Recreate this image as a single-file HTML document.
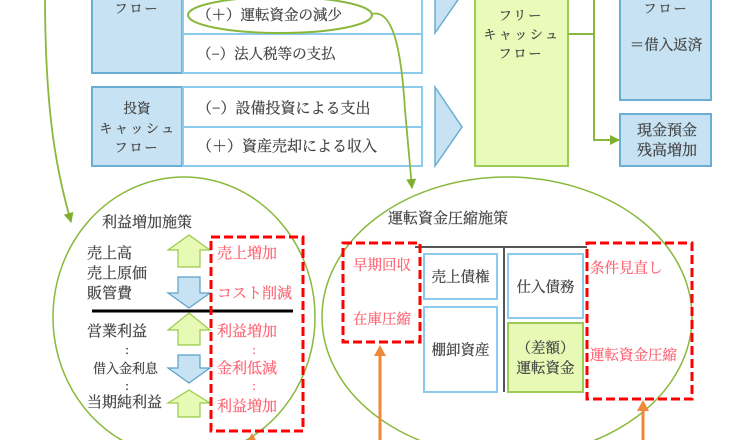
<!DOCTYPE html>
<html><head><meta charset="utf-8"><style>
html,body{margin:0;padding:0;background:#fff;}
svg{display:block;}
text{font-family:"Liberation Serif","Noto Serif CJK SC",serif;}
.d{fill:#444;stroke:#444;stroke-width:0.25;}
.r{fill:#ff6070;stroke:#ff6070;stroke-width:0.2;}
</style></head><body>
<svg width="740" height="440" viewBox="0 0 740 440" xmlns="http://www.w3.org/2000/svg">
<defs>
<marker id="ga" markerWidth="10" markerHeight="10" refX="9" refY="5" orient="auto" markerUnits="userSpaceOnUse"><path d="M0,0 L10,5 L0,10 z" fill="#7fae2e"/></marker>
</defs>

<!-- Operating CF block -->
<rect x="92" y="-40" width="90" height="113" fill="#c7e3f3" stroke="#6aaed3" stroke-width="2"/>
<rect x="183" y="-40" width="239" height="74" fill="#fff" stroke="#8ccbee" stroke-width="2"/>
<rect x="183" y="34" width="239" height="39" fill="#fff" stroke="#8ccbee" stroke-width="2"/>
<text class="d" x="137" y="13" font-size="13" text-anchor="middle" letter-spacing="2">フロー</text>
<text class="d" x="197" y="20" font-size="14.5">（＋）運転資金の減少</text>
<text class="d" x="197" y="59" font-size="14.5">（−）法人税等の支払</text>
<ellipse cx="280" cy="15" rx="92" ry="18" fill="none" stroke="#8ab83c" stroke-width="2"/>

<!-- Investing CF block -->
<rect x="92" y="87" width="90" height="79" fill="#c7e3f3" stroke="#6aaed3" stroke-width="2"/>
<rect x="183" y="87" width="239" height="40" fill="#fff" stroke="#8ccbee" stroke-width="2"/>
<rect x="183" y="127" width="239" height="39" fill="#fff" stroke="#8ccbee" stroke-width="2"/>
<text class="d" x="137" y="113" font-size="13.5" text-anchor="middle">投資</text>
<text class="d" x="138" y="133" font-size="13" text-anchor="middle" letter-spacing="2.5">キャッシュ</text>
<text class="d" x="137" y="152" font-size="13" text-anchor="middle" letter-spacing="2">フロー</text>
<text class="d" x="197" y="113" font-size="15">（−）設備投資による支出</text>
<text class="d" x="197" y="151" font-size="15">（＋）資産売却による収入</text>

<!-- Triangles -->
<polygon points="435,-46 462,-6 435,33" fill="#c7e3f3" stroke="#6aaed3" stroke-width="1.5"/>
<polygon points="435,87 462,127 435,166" fill="#c7e3f3" stroke="#6aaed3" stroke-width="1.5"/>

<!-- FCF -->
<rect x="475" y="-40" width="93" height="206" fill="#e8fbb8" stroke="#9ccc55" stroke-width="2"/>
<text class="d" x="521" y="20" font-size="13" text-anchor="middle" letter-spacing="2">フリー</text>
<text class="d" x="522" y="39" font-size="13" text-anchor="middle" letter-spacing="2.5">キャッシュ</text>
<text class="d" x="521" y="58" font-size="13" text-anchor="middle" letter-spacing="2">フロー</text>

<!-- connector -->
<path d="M568,34 H594" stroke="#8ab83c" stroke-width="2" fill="none"/>
<path d="M594,-5 V140 H619" stroke="#8ab83c" stroke-width="2" fill="none" marker-end="url(#ga)"/>

<!-- right boxes -->
<rect x="620" y="-40" width="91" height="140" fill="#c7e3f3" stroke="#6aaed3" stroke-width="2"/>
<text class="d" x="666" y="13" font-size="13" text-anchor="middle" letter-spacing="2">フロー</text>
<text class="d" x="666" y="50" font-size="14.5" text-anchor="middle">＝借入返済</text>
<rect x="620" y="114" width="91" height="52" fill="#c7e3f3" stroke="#6aaed3" stroke-width="2"/>
<text class="d" x="667" y="135" font-size="15" text-anchor="middle">現金預金</text>
<text class="d" x="667" y="155" font-size="15" text-anchor="middle">残高増加</text>

<!-- curves -->
<path d="M45,-5 C45,120 58,175 71,222" stroke="#8ab83c" stroke-width="1.8" fill="none" marker-end="url(#ga)"/>
<path d="M372,14 C395,8 402,60 405,110 L412,188" stroke="#8ab83c" stroke-width="1.8" fill="none" marker-end="url(#ga)"/>

<!-- Left ellipse -->
<ellipse cx="184" cy="317" rx="131" ry="140" fill="none" stroke="#8ab83c" stroke-width="1.5"/>
<text class="d" x="102" y="227" font-size="15">利益増加施策</text>
<text class="d" x="87" y="258" font-size="15">売上高</text>
<text class="d" x="87" y="278" font-size="15">売上原価</text>
<text class="d" x="87" y="298" font-size="15">販管費</text>
<line x1="92" y1="311" x2="293" y2="311" stroke="#000" stroke-width="3"/>
<text class="d" x="87" y="336" font-size="15">営業利益</text>
<text class="d" x="127" y="354" font-size="13" text-anchor="middle">:</text>
<text class="d" x="93" y="373" font-size="13">借入金利息</text>
<text class="d" x="127" y="390" font-size="13" text-anchor="middle">:</text>
<text class="d" x="87" y="407" font-size="15">当期純利益</text>

<!-- arrows -->
<polygon points="189,235 210,250 200,250 200,267 178,267 178,250 168,250" fill="#e6f9b5" stroke="#9bc94a" stroke-width="1.2"/>
<polygon points="178,277 200,277 200,293 210,293 189,308 168,293 178,293" fill="#c7e3f3" stroke="#5aa0c8" stroke-width="1.2"/>
<polygon points="189,313 210,330 200,330 200,345 178,345 178,330 168,330" fill="#e6f9b5" stroke="#9bc94a" stroke-width="1.2"/>
<polygon points="178,355 200,355 200,368 210,368 189,383 168,368 178,368" fill="#c7e3f3" stroke="#5aa0c8" stroke-width="1.2"/>
<polygon points="189,390 210,403 200,403 200,417 178,417 178,403 168,403" fill="#e6f9b5" stroke="#9bc94a" stroke-width="1.2"/>

<!-- red box left -->
<rect x="211" y="237" width="92" height="194" fill="none" stroke="#ff0000" stroke-width="3" stroke-dasharray="9,4"/>
<g font-size="15">
<text class="r" x="217" y="258">売上増加</text>
<text class="r" x="217" y="298">コスト削減</text>
<text class="r" x="217" y="336">利益増加</text>
<text class="r" x="254" y="354" font-size="13" text-anchor="middle">:</text>
<text class="r" x="217" y="373">金利低減</text>
<text class="r" x="254" y="390" font-size="13" text-anchor="middle">:</text>
<text class="r" x="217" y="411">利益増加</text>
</g>

<!-- Right ellipse -->
<ellipse cx="507" cy="317" rx="185" ry="140" fill="none" stroke="#8ab83c" stroke-width="1.5"/>
<text class="d" x="388" y="223" font-size="15">運転資金圧縮施策</text>
<line x1="415" y1="247" x2="587" y2="247" stroke="#555" stroke-width="2"/>
<line x1="504" y1="247" x2="504" y2="392" stroke="#555" stroke-width="2"/>

<rect x="424" y="254" width="73" height="45" fill="#fff" stroke="#8ccbee" stroke-width="2"/>
<text class="d" x="460.5" y="282" font-size="14.5" text-anchor="middle">売上債権</text>
<rect x="424" y="307" width="73" height="85" fill="#fff" stroke="#8ccbee" stroke-width="2"/>
<text class="d" x="460.5" y="355" font-size="14.5" text-anchor="middle">棚卸資産</text>
<rect x="508" y="254" width="75" height="64" fill="#fff" stroke="#8ccbee" stroke-width="2"/>
<text class="d" x="545.5" y="292" font-size="14.5" text-anchor="middle">仕入債務</text>
<rect x="508" y="323" width="75" height="69" fill="#e6f9b5" stroke="#9ccc55" stroke-width="2"/>
<text class="d" x="545.5" y="353" font-size="14.5" text-anchor="middle">（差額）</text>
<text class="d" x="545.5" y="373" font-size="14.5" text-anchor="middle">運転資金</text>

<rect x="343" y="243" width="77" height="99" fill="none" stroke="#ff0000" stroke-width="3" stroke-dasharray="9,4"/>
<text class="r" x="353" y="270" font-size="14.5">早期回収</text>
<text class="r" x="353" y="324" font-size="14.5">在庫圧縮</text>
<rect x="587" y="243" width="105" height="156" fill="none" stroke="#ff0000" stroke-width="3" stroke-dasharray="9,4"/>
<text class="r" x="590" y="273" font-size="14.5">条件見直し</text>
<text class="r" x="590" y="360" font-size="14.5">運転資金圧縮</text>

<!-- orange arrows -->
<line x1="380" y1="445" x2="380" y2="354" stroke="#f0883a" stroke-width="3"/>
<polygon points="380,345 386,356 374,356" fill="#f0883a"/>
<line x1="643" y1="445" x2="643" y2="409" stroke="#f0883a" stroke-width="3"/>
<polygon points="643,400 649,411 637,411" fill="#f0883a"/>
<polygon points="252,433 258,444 246,444" fill="#f0883a"/>
</svg>
</body></html>
